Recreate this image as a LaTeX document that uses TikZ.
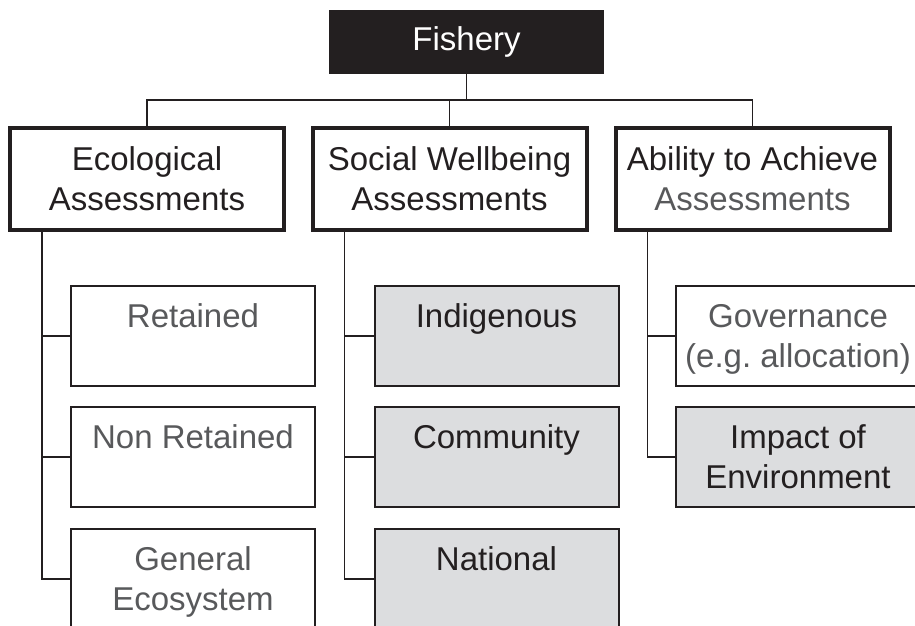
\documentclass[tikz,border=0pt]{standalone}
\usepackage{fontspec}
\setmainfont{Liberation Sans}
\usepackage{xcolor}
\definecolor{inkblack}{HTML}{231F20}
\definecolor{inkgrey}{HTML}{58595B}
\definecolor{boxgrey}{HTML}{DCDDDF}
\newcommand{\cellstrut}{\rule[-6.4pt]{0pt}{36.4pt}}
\tikzset{%
  fishbox/.style={draw=inkblack, fill=inkblack, text=white, line width=1pt, minimum width=274pt, minimum height=63pt, inner sep=0pt},
  groupbox/.style={draw=inkblack, line width=4pt, minimum width=274pt, minimum height=102pt, inner sep=0pt, align=center, text=inkblack},
  itembox/.style={draw=inkblack, line width=2pt, minimum width=244pt, minimum height=100pt, inner sep=0pt, align=center, text=inkblack},
  shadebox/.style={itembox, fill=boxgrey},
  faded/.style={text=inkgrey},
  link/.style={draw=inkblack, line width=1.5pt}
}

\begin{document}
\begin{tikzpicture}[x=1pt, y=-1pt, every node/.style={font=\fontsize{33}{40}\selectfont}]
	\useasboundingbox (0,0) rectangle (915,626);
	\clip (0,0) rectangle (915,626);
	\node[fishbox] (fish) at (466.5,42) {Fishery};
	% assessment groups
	\node[groupbox] (eco) at (147,179) {Ecological\cellstrut\\Assessments\cellstrut};
	\node[groupbox] (soc) at (449.5,179) {Social Wellbeing\cellstrut\\Assessments\cellstrut};
	\node[groupbox] (abl) at (752.5,179) {Ability to Achieve\cellstrut\\\textcolor{inkgrey}{Assessments}\cellstrut};
	\coordinate (bus) at (0,100);
	\draw[link] (fish.south) -- (fish.south |- bus);
	\draw[link] (eco.north) -- (eco.north |- bus) -- (abl.north |- bus) -- (abl.north);
	\draw[link] (soc.north) -- (soc.north |- bus);
	% ecological items
	\node[itembox, faded] (ret) at (193,336) {Retained\cellstrut\\\cellstrut};
	\node[itembox, faded] (non) at (193,457) {Non Retained\cellstrut\\\cellstrut};
	\node[itembox, faded] (gen) at (193,579) {General\cellstrut\\Ecosystem\cellstrut};
	% social items
	\node[shadebox] (ind) at (496.5,336) {Indigenous\cellstrut\\\cellstrut};
	\node[shadebox] (com) at (496.5,457) {Community\cellstrut\\\cellstrut};
	\node[shadebox] (nat) at (496.5,579) {National\cellstrut\\\cellstrut};
	% ability items
	\node[itembox, faded] (gov) at (798,336) {Governance\cellstrut\\(e.g.\ allocation)\cellstrut};
	\node[shadebox] (imp) at (798,457) {Impact of\cellstrut\\Environment\cellstrut};
	\foreach \k in {ret,non,gen} \draw[link] (\k.west) -| ([xshift=34pt]eco.south west);
	\foreach \k in {ind,com,nat} \draw[link] (\k.west) -| ([xshift=34pt]soc.south west);
	\foreach \k in {gov,imp} \draw[link] (\k.west) -| ([xshift=34pt]abl.south west);
\end{tikzpicture}
\end{document}
